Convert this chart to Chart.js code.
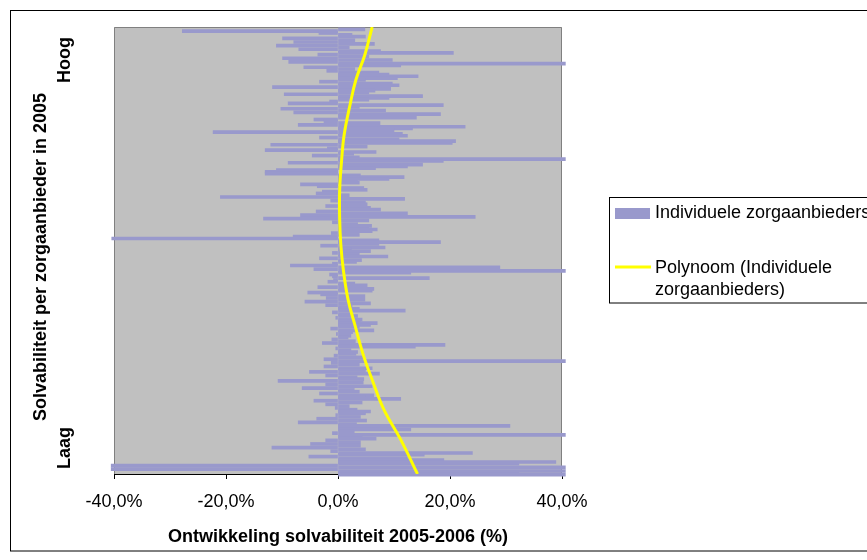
<!DOCTYPE html>
<html><head><meta charset="utf-8">
<script src="https://cdn.jsdelivr.net/npm/chart.js@4.4.1/dist/chart.umd.min.js"></script>
<style>html,body{margin:0;padding:0;background:#fff;overflow:hidden}canvas{display:block}</style>
</head><body>
<canvas id="c" width="867" height="560"></canvas>
<script>
// Ontwikkeling solvabiliteit per zorgaanbieder (%), sorted from high (top) to low (bottom) solvency
const band1 = [4.8, -27.8, -3.4, 2.5, 4.9, -9.9, 3, -7.9, 6.5, -11, 2, -7, 7.6, 20.6, -3.6, 5.5, -9.9, 9.7, -8.8, 40.6, 11.2, -6.1, 3, -2, 7.3, 9.1, 14.3, 10.6, 4.9];
const band2 = [-3.3, 9.7, 10.9, -11.7, 9.4, 6.6, 5.5, -9.6, 15.1, 9.1, 5.5, -1.5, -8.9, 18.8, 3.8, -10.2, 8.5, -7.9, 18.3, 11.5, 14, -4.3, -2.5, 7.5, -7.1, 22.7, 13.3, 10, -22.3, 11.5];
const band3 = [12.4, -3.3, 10.9, 21, 20.4, -12, 5.2, -1.9, -13, 6.8, 2.8, -4.6, 3.8, 40.6, 18.8, -8.9, 15.1, 12.4, 6.7, -11, -13, -13, 4, 11.8, 9.1, 3.5, 3.8, -6.7, -3.7, 4.6];
const band4 = [5.2, -2.8, -3.9, 2, -21, 11.9, -1.3, 4.9, 5.2, -2.2, 5.8, 7.6, -3.9, 12.4, -6.7, 24.5, -13.3, 5.5, -1, 3.5, 6, 5.5, 7, 6.1, -1.2, 3.8, -8, -40.4, 7.3, 18.3];
const band5 = [7.3, -3.1, 8.4, 2.4, 5.8, -1, 3.8, 8.9, -3.3, 4.2, 3.3, -1, -8.5, 28.9, -4.3, 40.6, 13, -1.5, -1, 16.3, -0.8, -1.8, 3, 5.2, -3.6, 6.4, 6.1, -5.4, -3.1, 4.8, -2.1];
const band6 = [4.8, -5.9, 5.8, -2.2, 2.5, 3.8, 12, -1, 2.6, 3.5, -0.4, 4.3, 4, 7, 5.8, 3.8, -1.3, 6.4, 2.6, -0.3, 2.3, 1.8, -1.1, 3.1, -2.8, 19.1, 13.8, -0.4, 2.3, 3.5];
const band7 = [3.2, -0.7, 4.5, -2.5, 40.6, -1.2, 3.8, -2.5, 6.1, 4.9, -5.1, 7.4, -2.2, 3.4, 4.6, -10.7, 4.5, -2.2, 6.1, -6.4, 2.9, 3.8, -3.3, 6.4, 4.9, 11.2, -4.3, 4.3, -2.2, 2];
const band8 = [-0.5, 3.4, 5.8, 4.9, -0.4, 4, -3.8, 5.1, -7.1, 3.3, 30.7, 9.7, 13, 2.9, -1, 40.6, 4.3, 6.8, -2.2, 4, -4.9, 4, -11.8, 4.9, -1.3, 24, 15.4, -5.2, 12.4, 18.9, 38.9, 32.3, -40.5, 40.6, -40.5, 40.6, 32.3, 40.6];
const barValues = [].concat(band1, band2, band3, band4, band5, band6, band7, band8);
const categories = barValues.map((_, i) => String(i + 1));

// Polynomial trend line, read at relative positions from top (0) to bottom (1)
const trendPos = [0, 0.062, 0.118, 0.174, 0.241, 0.297, 0.364, 0.43, 0.486, 0.543, 0.61, 0.666, 0.733, 0.789, 0.856, 0.923, 1.0];
const trendVal = [6.1, 4.8, 3.2, 2.15, 1.1, 0.65, 0.3, 0.3, 0.5, 0.95, 1.8, 3.0, 4.5, 6.1, 8.2, 11.2, 14.2];

const xTicks = [-40, -20, 0, 20, 40];
const xTickLabels = ['-40,0%', '-20,0%', '0,0%', '20,0%', '40,0%'];
const seriesName = 'Individuele zorgaanbieders';
const trendNameLines = ['Polynoom (Individuele', 'zorgaanbieders)'];
const xTitle = 'Ontwikkeling solvabiliteit 2005-2006 (%)';
const yTitle = 'Solvabiliteit per zorgaanbieder in 2005';
const yHigh = 'Hoog';
const yLow = 'Laag';

const FONT = "'Liberation Sans', Arial, Helvetica, sans-serif";
const BAR = '#9999CC';
const TREND = '#FFFF00';

const deco = {
  id: 'deco',
  beforeDraw(chart) {
    const {ctx, chartArea: a} = chart;
    ctx.save();
    ctx.fillStyle = '#ffffff';
    ctx.fillRect(0, 0, chart.width, chart.height);
    ctx.fillStyle = '#C0C0C0';
    ctx.fillRect(a.left, a.top, a.right - a.left, a.bottom - a.top);
    ctx.restore();
  },
  beforeDatasetsDraw(chart) {
    const {ctx, chartArea: a} = chart;
    ctx.save();
    ctx.strokeStyle = '#808080';
    ctx.lineWidth = 1;
    ctx.beginPath();
    ctx.moveTo(a.left + 0.5, a.bottom);
    ctx.lineTo(a.left + 0.5, a.top + 0.5);
    ctx.lineTo(a.right - 0.5, a.top + 0.5);
    ctx.lineTo(a.right - 0.5, a.bottom);
    ctx.stroke();
    ctx.restore();
  },
  afterDraw(chart) {
    const {ctx} = chart;
    ctx.save();
    ctx.strokeStyle = '#000';
    ctx.lineWidth = 1;
    ctx.strokeRect(10.5, 10.5, 900, 540.5);
    ctx.fillStyle = '#000';
    ctx.font = 'bold 18px ' + FONT;
    ctx.textBaseline = 'alphabetic';
    ctx.textAlign = 'center';
    const rot = (txt, x, y) => {
      ctx.save(); ctx.translate(x, y); ctx.rotate(-Math.PI / 2); ctx.fillText(txt, 0, 0); ctx.restore();
    };
    rot(yTitle, 46, 257);
    rot(yHigh, 70, 60);
    rot(yLow, 70, 448);
    ctx.strokeStyle = '#000';
    ctx.strokeRect(609.5, 197.5, 400, 105.5);
    ctx.fillStyle = BAR;
    ctx.fillRect(615, 208, 35, 11);
    ctx.strokeStyle = TREND;
    ctx.lineWidth = 3;
    ctx.beginPath(); ctx.moveTo(615, 267); ctx.lineTo(651, 267); ctx.stroke();
    ctx.fillStyle = '#000';
    ctx.font = '18px ' + FONT;
    ctx.textAlign = 'left';
    ctx.fillText(seriesName, 655, 218);
    ctx.fillText(trendNameLines[0], 655, 273);
    ctx.fillText(trendNameLines[1], 655, 294.5);
    ctx.restore();
  }
};

new Chart(document.getElementById('c'), {
  type: 'bar',
  data: {
    labels: categories,
    datasets: [
      {
        type: 'line', label: trendNameLines.join(' '), indexAxis: 'y',
        data: trendPos.map((p, i) => ({x: trendVal[i], y: p})),
        xAxisID: 'x', yAxisID: 'yLine',
        borderColor: TREND, borderWidth: 3, pointRadius: 0, tension: 0.4, fill: false, order: 0
      },
      {
        type: 'bar', label: seriesName, data: barValues,
        xAxisID: 'x', yAxisID: 'y',
        backgroundColor: BAR, borderWidth: 0,
        barThickness: 3, clip: false, order: 1
      }
    ]
  },
  options: {
    indexAxis: 'y',
    responsive: false,
    animation: false,
    devicePixelRatio: 1,
    layout: {padding: {left: 114, top: 27, right: 305, bottom: 0}},
    plugins: {legend: {display: false}, tooltip: {enabled: false}},
    scales: {
      x: {
        type: 'linear', min: -40, max: 40, position: 'bottom',
        afterFit(s) { s.height = 86; },
        afterBuildTicks(s) { s.ticks = xTicks.map(v => ({value: v})); },
        ticks: {
          callback: (v) => xTickLabels[xTicks.indexOf(v)],
          font: {family: FONT, size: 18}, color: '#000', padding: 12,
          maxRotation: 0, autoSkip: false
        },
        grid: {display: true, drawOnChartArea: false, drawTicks: true, tickLength: 5, color: '#000'},
        border: {display: true, color: '#000', width: 1},
        title: {
          display: true, text: xTitle, color: '#000',
          font: {family: FONT, size: 18, weight: 'bold'},
          padding: {top: 0, bottom: 12}
        }
      },
      y: {type: 'category', display: false, offset: true},
      yLine: {type: 'linear', display: false, min: 0, max: 1, reverse: true, offset: false, grace: 0}
    }
  },
  plugins: [deco]
});
</script>
</body></html>
